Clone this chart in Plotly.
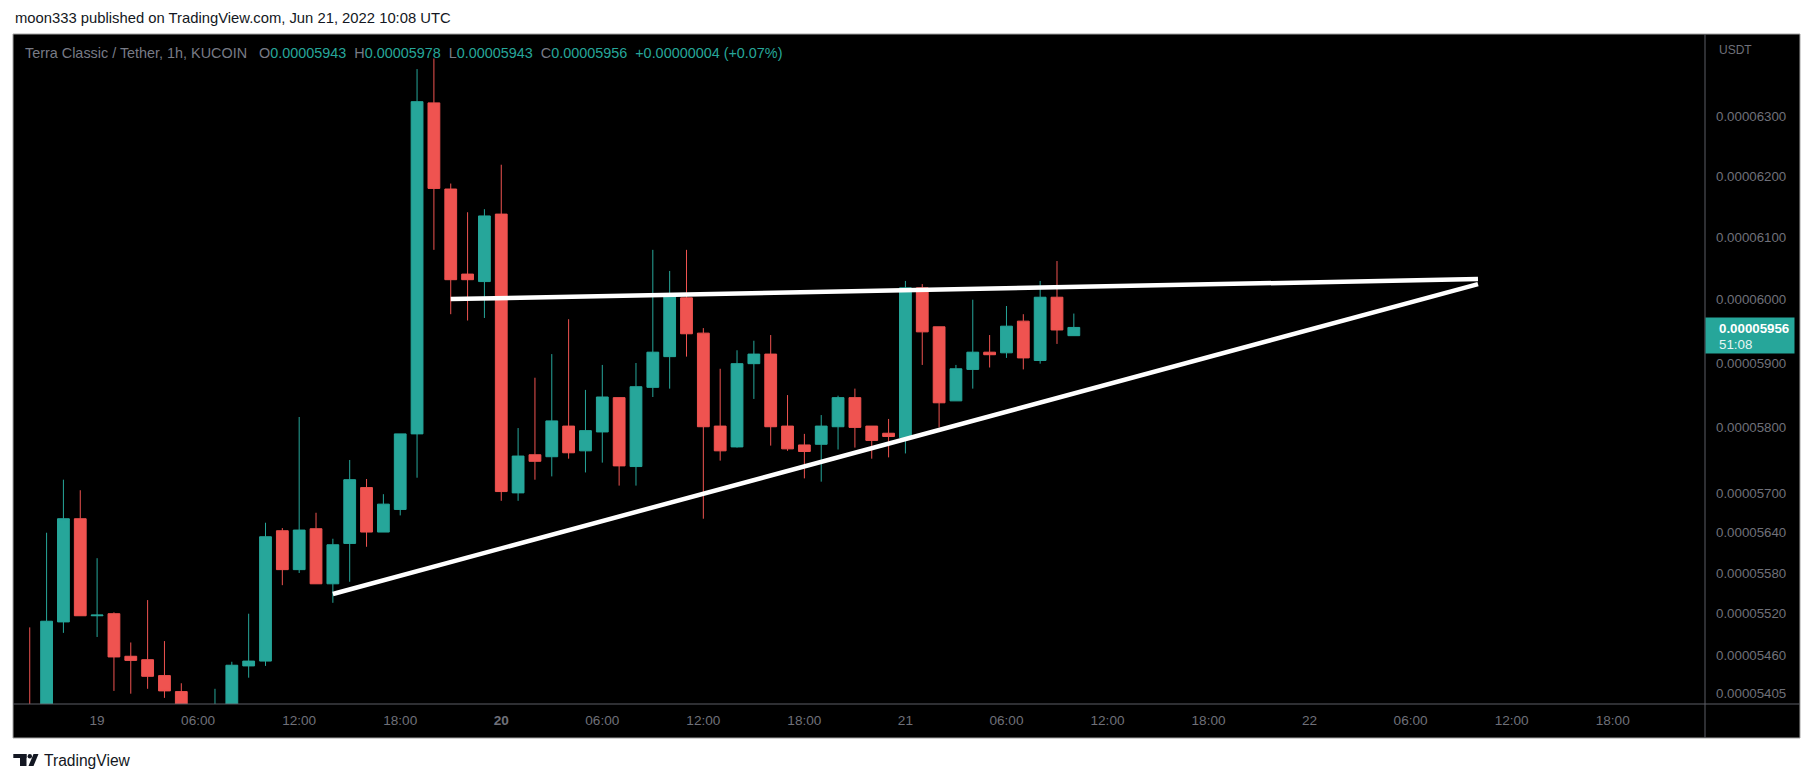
import numpy as np
import pandas as pd
import plotly.graph_objects as go

# KUCOIN LUNC/USDT 1h candles, prices in units of 1e-8 USDT
first_candle = "2022-06-18 20:00"
opens = [5385, 5372, 5508, 5661, 5517, 5520, 5458, 5453, 5430, 5407, 5385, 5372, 5386, 5444, 5451,
         5643, 5585, 5646, 5564, 5624, 5708, 5641, 5675, 5790, 6322, 6179, 6041, 6029, 6138, 5700,
         5758, 5755, 5802, 5764, 5793, 5846, 5740, 5862, 5910, 6003, 5947, 5802, 5770, 5899, 5914,
         5802, 5773, 5774, 5801, 5846, 5802, 5791, 5784, 6019, 5957, 5841, 5890, 5917, 5916, 5966,
         5904, 6004, 5943]
highs = [5500, 5640, 5720, 5704, 5602, 5522, 5478, 5540, 5480, 5419, 5388, 5411, 5450, 5520, 5655,
         5647, 5816, 5670, 5631, 5750, 5721, 5698, 5790, 6379, 6397, 6188, 6141, 6146, 6219, 5799,
         5877, 5914, 5969, 5858, 5897, 5846, 5900, 6080, 6046, 6080, 5955, 5891, 5920, 5935, 5944,
         5850, 5790, 5819, 5849, 5860, 5802, 5813, 6030, 6025, 5957, 5897, 6000, 5944, 5990, 5977,
         6030, 6062, 5978]
lows = [5350, 5360, 5492, 5517, 5486, 5408, 5404, 5411, 5398, 5370, 5355, 5360, 5375, 5427, 5444,
        5562, 5580, 5564, 5536, 5567, 5619, 5641, 5666, 5723, 6080, 5977, 5967, 5971, 5688, 5688,
        5720, 5725, 5752, 5731, 5746, 5711, 5711, 5847, 5860, 5910, 5661, 5749, 5769, 5844, 5772,
        5764, 5722, 5717, 5766, 5769, 5752, 5754, 5760, 5897, 5800, 5841, 5860, 5893, 5908, 5890,
        5899, 5930, 5943]
closes = [5370, 5509, 5661, 5517, 5518, 5457, 5452, 5429, 5408, 5385, 5372, 5386, 5445, 5451, 5634,
          5585, 5644, 5564, 5622, 5720, 5641, 5683, 5790, 6324, 6180, 6032, 6032, 6135, 5702, 5756,
          5748, 5810, 5761, 5795, 5847, 5741, 5863, 5917, 6006, 5946, 5801, 5764, 5899, 5914, 5801,
          5767, 5763, 5802, 5846, 5800, 5780, 5786, 6019, 5949, 5838, 5891, 5917, 5913, 5958, 5908,
          6004, 5952, 5956]

# trend lines drawn on the chart (time, price in 1e-8)
upper_t = ["2022-06-19 21:00", "2022-06-22 10:00"]
upper_p = [6001, 6033]
lower_t = ["2022-06-19 14:00", "2022-06-22 10:00"]
lower_p = [5549, 6025]

price_ticks = [6300, 6200, 6100, 6000, 5900, 5800, 5700, 5640, 5580, 5520, 5460, 5405]
time_ticks = pd.date_range("2022-06-19 00:00", periods=16, freq="6h")
time_labels = ["19", "06:00", "12:00", "18:00", "<b>20</b>", "06:00", "12:00", "18:00",
               "21", "06:00", "12:00", "18:00", "22", "06:00", "12:00", "18:00"]

UNIT = 1e-8
TEAL = "#26a69a"
RED = "#ef5350"
GRAY = "#787b86"
AXIS_TXT = "#6f7079"
DARK = "#131722"
FONT = "Liberation Sans, Arial, sans-serif"

times = pd.date_range(first_candle, periods=len(opens), freq="h")
o = np.array(opens) * UNIT
h = np.array(highs) * UNIT
l = np.array(lows) * UNIT
c = np.array(closes) * UNIT

fig = go.Figure()
fig.add_trace(go.Candlestick(
    x=times, open=o, high=h, low=l, close=c,
    increasing=dict(fillcolor=TEAL, line=dict(color=TEAL, width=1)),
    decreasing=dict(fillcolor=RED, line=dict(color=RED, width=1)),
    whiskerwidth=0, showlegend=False, hoverinfo="skip",
))
for tt, pp in [(upper_t, upper_p), (lower_t, lower_p)]:
    fig.add_trace(go.Scatter(x=pd.to_datetime(tt), y=np.array(pp) * UNIT, mode="lines",
                             line=dict(color="white", width=4.5), showlegend=False,
                             hoverinfo="skip"))

# page body has an 8px margin, so the figure is 8px smaller than the window;
# helpers take reference pixel positions (plot area 13..1705 x 34..704)
def px(x):
    return (x - 13) / 1692

def py(y):
    return (704 - y) / 670

fig.update_layout(
    width=1805, height=775,
    margin=dict(l=5, r=108, t=26, b=79, pad=0),
    paper_bgcolor="white", plot_bgcolor="black",
    boxgap=0.3, boxgroupgap=0,
    font=dict(family=FONT, color=GRAY),
    xaxis=dict(type="date", range=["2022-06-18 19:00:21", "2022-06-22 23:28:50"],
               tickvals=time_ticks, ticktext=time_labels, showgrid=False, zeroline=False,
               showline=False, ticks="", tickfont=dict(size=13.6, color=AXIS_TXT),
               rangeslider=dict(visible=False), ticklabelstandoff=6),
    yaxis=dict(type="log", range=[-4.268474, -4.191202], side="right",
               tickvals=[p * UNIT for p in price_ticks],
               ticktext=[f"{p * UNIT:.8f}" for p in price_ticks],
               showgrid=False, zeroline=False, showline=False, ticks="",
               tickfont=dict(size=13.3, color=AXIS_TXT), ticklabelstandoff=10),
)

# chart frame, separators
fig.add_shape(type="rect", xref="paper", yref="paper", x0=0, x1=px(1800), y0=py(738), y1=1,
              fillcolor="black", line=dict(color="#a3a3a3", width=1), layer="below")
fig.add_shape(type="line", xref="paper", yref="paper", x0=0, x1=px(1800), y0=0, y1=0,
              line=dict(color="#5d5f66", width=1))
fig.add_shape(type="line", xref="paper", yref="paper", x0=1, x1=1, y0=py(738), y1=1,
              line=dict(color="#5d5f66", width=1))

# last price label on the price scale
last_y = np.log10(c[-1])
fig.add_annotation(xref="paper", yref="y", x=1, y=last_y, xanchor="left", yanchor="middle",
                   yshift=-8, text="\u00a0", width=88, height=35, bgcolor=TEAL, borderpad=0,
                   showarrow=False)
fig.add_annotation(xref="paper", yref="y", x=px(1717), y=last_y, xanchor="left",
                   yanchor="middle", yshift=-1, text=f"<b>{c[-1]:.8f}</b>",
                   font=dict(size=13.3, color="white"), showarrow=False)
fig.add_annotation(xref="paper", yref="y", x=px(1717), y=last_y, xanchor="left",
                   yanchor="middle", yshift=-17, text="51:08",
                   font=dict(size=13.3, color="#e8f5f3"), showarrow=False)
fig.add_annotation(xref="paper", yref="paper", x=px(1717), y=py(50), xanchor="left",
                   yanchor="middle", text="USDT", font=dict(size=12, color=AXIS_TXT),
                   showarrow=False)

# legend line with OHLC of the last bar
chg = c[-1] - c[-2]
pct = chg / c[-2] * 100
sp = "\u00a0\u00a0"

def span(txt, col):
    return f"<span style='color:{col}'>{txt}</span>"

legend = span("Terra Classic / Tether, 1h, KUCOIN", GRAY) + "\u00a0"
for lab, val in [("O", o[-1]), ("H", h[-1]), ("L", l[-1]), ("C", c[-1])]:
    legend += sp + span(lab, GRAY) + span(f"{val:.8f}", TEAL)
legend += sp + span(f"{chg:+.8f} ({pct:+.2f}%)", TEAL)
fig.add_annotation(xref="paper", yref="paper", x=px(23), y=py(53), xanchor="left",
                   yanchor="middle", text=legend, font=dict(size=14.4), showarrow=False)

fig.add_annotation(xref="paper", yref="paper", x=0, y=py(18), xanchor="left", yanchor="middle",
                   text="moon333 published on TradingView.com, Jun 21, 2022 10:08 UTC",
                   font=dict(size=14.8, color=DARK), showarrow=False)

# TradingView logo mark and name
fig.add_shape(type="rect", xref="paper", yref="paper", x0=px(13.3), x1=px(26.5),
              y0=py(758), y1=py(754), fillcolor=DARK, line_width=0)
fig.add_shape(type="rect", xref="paper", yref="paper", x0=px(20), x1=px(26.5),
              y0=py(766), y1=py(754), fillcolor=DARK, line_width=0)
fig.add_shape(type="circle", xref="paper", yref="paper", x0=px(27.6), x1=px(32),
              y0=py(758.4), y1=py(754), fillcolor=DARK, line_width=0)
fig.add_shape(type="path", xref="paper", yref="paper",
              path=(f"M {px(28.5)} {py(766)} L {px(33.5)} {py(766)} "
                    f"L {px(38.5)} {py(754)} L {px(33.5)} {py(754)} Z"),
              fillcolor=DARK, line_width=0)
fig.add_annotation(xref="paper", yref="paper", x=px(42), y=py(760.5), xanchor="left",
                   yanchor="middle", text="TradingView", font=dict(size=15.6, color=DARK),
                   showarrow=False)

fig.write_html("out.html")
